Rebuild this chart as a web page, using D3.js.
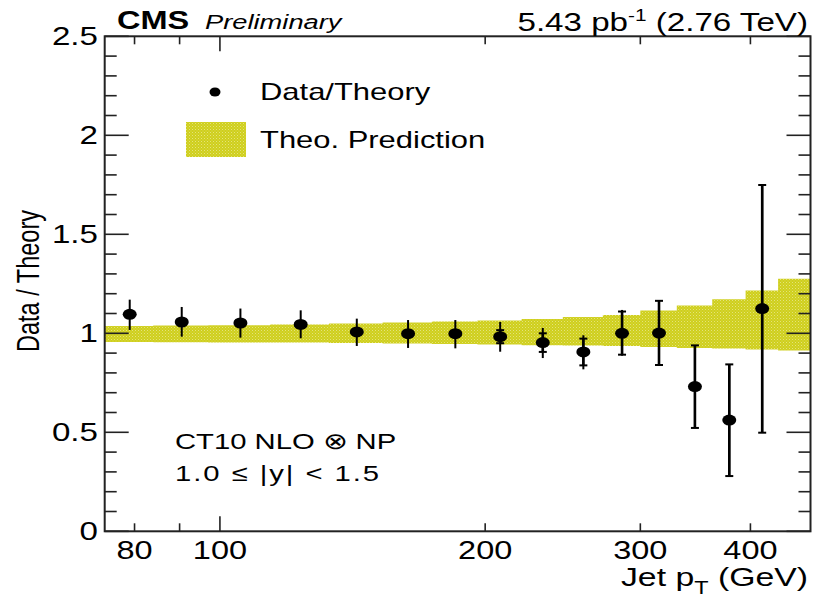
<!DOCTYPE html>
<html>
<head>
<meta charset="utf-8">
<script src="https://cdn.jsdelivr.net/npm/d3@7"></script>
<style>
  html, body { margin: 0; padding: 0; background: #fff; }
  svg { display: block; }
  text { font-family: "Liberation Sans", Arial, Helvetica, sans-serif; fill: #000; }
</style>
</head>
<body>
<svg id="chart" width="818" height="598"></svg>
<script>
// ---------------- data ----------------
const binEdges = [74, 84, 97, 114, 133, 153, 174, 196, 220, 245, 272, 300, 330, 362, 395, 430, 468];
const bandLow  = [0.956, 0.955, 0.954, 0.953, 0.951, 0.948, 0.946, 0.943, 0.940, 0.938, 0.936, 0.931, 0.926, 0.923, 0.918, 0.913];
const bandHigh = [1.037, 1.039, 1.041, 1.044, 1.049, 1.055, 1.060, 1.065, 1.072, 1.082, 1.093, 1.115, 1.141, 1.172, 1.216, 1.276];

const ptCenters = [79, 90.5, 105.5, 123.5, 143, 163.5, 185, 208, 232.5, 258.5, 286, 315, 346, 378.5, 412.5];
const ratio     = [1.096, 1.057, 1.052, 1.045, 1.007, 0.998, 0.998, 0.983, 0.953, 0.906, 1.000, 1.001, 0.731, 0.562, 1.125];
const totUp     = [0.074, 0.076, 0.073, 0.071, 0.067, 0.069, 0.069, 0.074, 0.074, 0.084, 0.118, 0.165, 0.208, 0.281, 0.624];
const totDown   = [0.079, 0.074, 0.074, 0.070, 0.071, 0.072, 0.074, 0.076, 0.078, 0.088, 0.113, 0.165, 0.209, 0.283, 0.627];
const statUp    = [0.015, 0.015, 0.015, 0.015, 0.015, 0.015, 0.015, 0.033, 0.047, 0.067, 0.110, 0.163, 0.208, 0.281, 0.624];
const statDown  = [0.015, 0.015, 0.015, 0.015, 0.015, 0.015, 0.015, 0.033, 0.047, 0.068, 0.108, 0.161, 0.209, 0.283, 0.627];

const xTickValues  = [80, 90, 100, 200, 300, 400];
const xTickLabels  = ["80", "", "100", "200", "300", "400"];
const yTickLabels  = ["0", "0.5", "1", "1.5", "2", "2.5"];
const yMajorValues = [0, 0.5, 1, 1.5, 2, 2.5];

const legendLabels = ["Data/Theory", "Theo. Prediction"];
const headerLeft = "CMS", headerExtra = "Preliminary";
const annotation = ["CT10 NLO \u2297 NP", "1.0 \u2264 |y| < 1.5"];

// ---------------- layout ----------------
const SX = 1.3; // horizontal stretch of all text, as in reference
const L = 104.7, R = 810.5, T = 36.3, B = 531.3;

const svg = d3.select("#chart");
const x = d3.scaleLog().domain([binEdges[0], binEdges[binEdges.length - 1]]).range([L, R]);
const y = d3.scaleLinear().domain([0, 2.5]).range([B, T]);

// pattern for theory band
const defs = svg.append("defs");
const pat = defs.append("pattern").attr("id", "band").attr("patternUnits", "userSpaceOnUse")
  .attr("width", 3).attr("height", 3);
pat.append("rect").attr("width", 3).attr("height", 3).attr("fill", "#cfcf1c");
pat.append("rect").attr("x", 0).attr("y", 0).attr("width", 1).attr("height", 1).attr("fill", "#e4e47a");
pat.append("rect").attr("x", 1.5).attr("y", 1.5).attr("width", 1).attr("height", 1).attr("fill", "#dede5a");

function stext(g, xx, yy, str, size, anchor, opts = {}) {
  const t = g.append("text")
    .attr("transform", `translate(${xx},${yy}) scale(${SX},1)` + (opts.rotate ? ` rotate(${opts.rotate})` : ""))
    .attr("font-size", size)
    .attr("text-anchor", anchor || "start");
  if (opts.weight) t.attr("font-weight", opts.weight);
  if (opts.style) t.attr("font-style", opts.style);
  if (opts.length) t.attr("textLength", opts.length).attr("lengthAdjust", "spacing");
  if (str !== null) t.text(str);
  return t;
}

// theory band (step histogram band)
const bins = d3.range(bandLow.length).map(i => ({ x0: binEdges[i], x1: binEdges[i + 1], lo: bandLow[i], hi: bandHigh[i] }));
const area = d3.area().curve(d3.curveStepAfter).x(d => x(d.x)).y0(d => y(d.lo)).y1(d => y(d.hi));
const areaPts = bins.map(b => ({ x: b.x0, lo: b.lo, hi: b.hi }));
areaPts.push({ x: bins[bins.length - 1].x1, lo: bins[bins.length - 1].lo, hi: bins[bins.length - 1].hi });
svg.append("path").attr("d", area(areaPts)).attr("fill", "url(#band)");

// axes frame
const axisG = svg.append("g").attr("stroke", "#222").attr("fill", "none");
axisG.append("rect").attr("x", L).attr("y", T).attr("width", R - L).attr("height", B - T).attr("stroke-width", 2);

// y ticks (left and right)
const yMinor = d3.range(0, 26).map(i => i / 10);
yMinor.forEach(v => {
  const major = Math.abs(v * 2 - Math.round(v * 2)) < 1e-6;
  const len = major ? 24 : 12;
  axisG.append("line").attr("x1", L).attr("x2", L + len).attr("y1", y(v)).attr("y2", y(v)).attr("stroke-width", 1.6);
  axisG.append("line").attr("x1", R).attr("x2", R - len).attr("y1", y(v)).attr("y2", y(v)).attr("stroke-width", 1.6);
});
// x ticks (bottom and top)
xTickValues.forEach(v => {
  const len = v === 100 ? 15 : 8;
  axisG.append("line").attr("x1", x(v)).attr("x2", x(v)).attr("y1", B).attr("y2", B - len).attr("stroke-width", 1.6);
  axisG.append("line").attr("x1", x(v)).attr("x2", x(v)).attr("y1", T).attr("y2", T + len).attr("stroke-width", 1.6);
});

// tick labels
const labG = svg.append("g");
yMajorValues.forEach((v, i) => stext(labG, 98, y(v) + 9, yTickLabels[i], 25.5, "end"));
xTickValues.forEach((v, i) => { if (xTickLabels[i]) stext(labG, x(v), 559, xTickLabels[i], 25, "middle"); });

// axis titles
stext(labG, 39, 281, "Data / Theory", 23.5, "middle", { rotate: -90 });
const xt = stext(labG, 808, 586, null, 26, "end");
xt.append("tspan").text("Jet p");
xt.append("tspan").attr("font-size", 18).attr("dy", 8).text("T");
xt.append("tspan").attr("dy", -8).text(" (GeV)");

// header
stext(labG, 117, 29, headerLeft, 25, "start", { weight: "bold" });
stext(labG, 205, 29, headerExtra, 21, "start", { style: "italic" });
const hr = stext(labG, 808, 31, null, 25.5, "end");
hr.append("tspan").text("5.43 pb");
hr.append("tspan").attr("font-size", 16).attr("dy", -10).text("-1");
hr.append("tspan").attr("dy", 10).text(" (2.76 TeV)");

// annotation
stext(labG, 175, 449, annotation[0], 22.5, "start");
stext(labG, 175, 481, annotation[1], 22.5, "start", { length: 157 });

// legend
svg.append("ellipse").attr("cx", 215).attr("cy", 92).attr("rx", 5.5).attr("ry", 4.5).attr("fill", "#000");
stext(labG, 260, 100, legendLabels[0], 23.8, "start");
svg.append("rect").attr("x", 186).attr("y", 122).attr("width", 60).attr("height", 35).attr("fill", "url(#band)");
stext(labG, 260, 148, legendLabels[1], 23.8, "start");

// data points with error bars
const dataG = svg.append("g");
ptCenters.forEach((pt, i) => {
  const cx = x(pt);
  // total uncertainty
  dataG.append("line").attr("x1", cx).attr("x2", cx)
    .attr("y1", y(ratio[i] + totUp[i])).attr("y2", y(ratio[i] - totDown[i]))
    .attr("stroke", "#000").attr("stroke-width", 2);
  // statistical uncertainty with caps
  dataG.append("line").attr("x1", cx).attr("x2", cx)
    .attr("y1", y(ratio[i] + statUp[i])).attr("y2", y(ratio[i] - statDown[i]))
    .attr("stroke", "#000").attr("stroke-width", 2.6);
  [ratio[i] + statUp[i], ratio[i] - statDown[i]].forEach(v => {
    dataG.append("line").attr("x1", cx - 4).attr("x2", cx + 4).attr("y1", y(v)).attr("y2", y(v))
      .attr("stroke", "#000").attr("stroke-width", 2);
  });
  dataG.append("ellipse").attr("cx", cx).attr("cy", y(ratio[i])).attr("rx", 7).attr("ry", 5.5).attr("fill", "#000");
});
</script>
</body>
</html>
